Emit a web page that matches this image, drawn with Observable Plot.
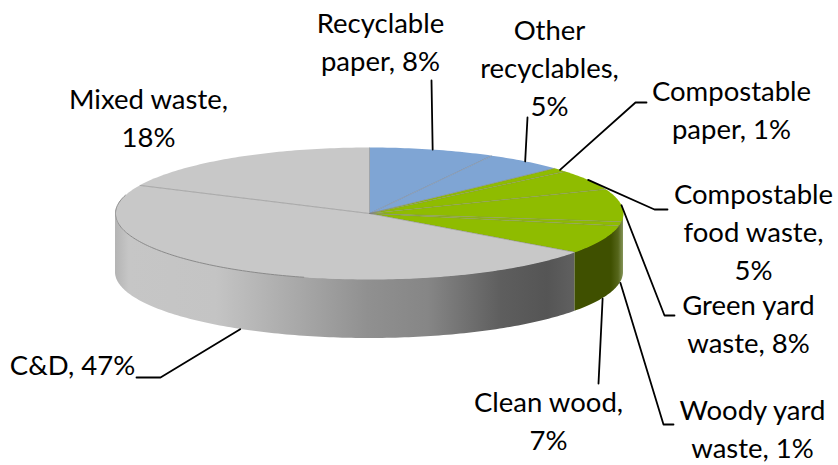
<!DOCTYPE html>
<html>
<head>
<meta charset="utf-8">
<script src="https://cdn.jsdelivr.net/npm/d3@7"></script>
<script src="https://cdn.jsdelivr.net/npm/@observablehq/plot@0.6"></script>
<style>
  html, body { margin: 0; padding: 0; background: #fff; }
  svg { display: block; }
</style>
</head>
<body>
<script>
// Waste composition, percent of total, clockwise from twelve o'clock.
const categories = ["Recyclable paper", "Other recyclables", "Compostable paper", "Compostable food waste",
  "Green yard waste", "Woody yard waste", "Clean wood", "C&D", "Mixed waste"];
const shares = [8, 5, 1, 5, 8, 1, 7, 47, 18];
const labelLead = ["Recyclable\npaper, ", "Other\nrecyclables,\n", "Compostable\npaper, ", "Compostable\nfood waste,\n",
  "Green yard\nwaste, ", "Woody yard\nwaste, ", "Clean wood,\n", "C&D, ", "Mixed waste,\n"];
const topColors = ["#7fa5d4", "#7fa5d4", "#8fbc00", "#8fbc00", "#8fbc00", "#8fbc00", "#8fbc00", "#c8c8c8", "#c8c8c8"];

// Label placement and the elbow of each leader line.
const labelX = [380, 549, 731, 753, 748, 752, 548, 72, 148];
const labelY = [39, 65, 107, 229, 321, 426, 418, 362, 115];
const leaderPath = [
  [[431, 80]],
  [[527, 117]],
  [[635, 102], [646, 102]],
  [[654, 209], [667, 209]],
  [[664, 315], [674, 315]],
  [[663, 424], [673, 424]],
  [[598, 383]],
  [[160, 377], [136, 377]],
  null
];

// Tilted disc geometry.
const cx = 369, cy = 213, rx = 254, ry = 66, depth = 59;
const rim = (deg, drop = 0) => {
  const a = deg * Math.PI / 180;
  return { x: cx + rx * Math.sin(a), y: cy - ry * Math.cos(a) + drop };
};
const arc = (from, to, drop = 0) => {
  const n = Math.max(2, Math.ceil(Math.abs(to - from)));
  return d3.range(n + 1).map((i) => rim(from + (to - from) * i / n, drop));
};

let running = 0;
const slices = categories.map((name, i) => {
  const start = running * 3.6;
  running += shares[i];
  const end = running * 3.6;
  return { name, i, start, end, mid: (start + end) / 2, text: labelLead[i] + shares[i] + "%" };
});

// Leaders leave the top rim on the far side and the wall's lower edge on the near side.
const leaders = slices.flatMap((s) => {
  if (!leaderPath[s.i]) return [];
  const a = s.mid;
  const front = a > 92 && a < 268;
  const start = rim(a, front ? depth : 0);
  return [start, ...leaderPath[s.i].map(([x, y]) => ({ x, y }))].map((p) => ({ ...p, z: s.name }));
});

const wallGrey = [
  [0, "#b4b4b4"], [0.03, "#c6c6c6"], [0.22, "#c4c4c4"], [0.4, "#a8a8a8"], [0.55, "#909090"],
  [0.68, "#868686"], [0.84, "#5e5e5e"], [0.94, "#555555"], [1, "#606060"]
];
const wallGreen = [[0, "#3f5000"], [0.75, "#3f5000"], [0.9, "#56661a"], [1, "#85955a"]];

const gradientDefs = () => {
  const defs = d3.create("svg:defs");
  [["wall-grey", wallGrey], ["wall-green", wallGreen]].forEach(([id, stops]) => {
    const g = defs.append("linearGradient").attr("id", id).attr("x1", 0).attr("x2", 1).attr("y1", 0).attr("y2", 0);
    stops.forEach(([o, c]) => g.append("stop").attr("offset", o).attr("stop-color", c));
  });
  return defs.node();
};

const wall = (from, to, fill) => {
  const pts = arc(from, to).map((p) => ({ x: p.x, y1: p.y, y2: p.y + depth }));
  return Plot.areaY(pts, { x: "x", y1: "y1", y2: "y2", fill, curve: "linear" });
};

const boundaries = slices.map((s) => ({ x1: cx, y1: cy, x2: rim(s.end).x, y2: rim(s.end).y }));

const chart = Plot.plot({
  width: 838,
  height: 465,
  margin: 0,
  x: { domain: [0, 838], range: [0, 838], axis: null },
  y: { domain: [0, 465], range: [0, 465], axis: null },
  style: { fontFamily: "Lato, sans-serif", background: "#fff" },
  marks: [
    gradientDefs,
    wall(126, 270, "url(#wall-grey)"),
    wall(90, 126, "url(#wall-green)"),
    ...slices.map((s) =>
      Plot.line([{ x: cx, y: cy }, ...arc(s.start, s.end), { x: cx, y: cy }],
        { x: "x", y: "y", fill: topColors[s.i], stroke: "none", curve: "linear" })
    ),
    Plot.link(boundaries, {
      x1: "x1", y1: "y1", x2: "x2", y2: "y2",
      stroke: "#7d7d7d", strokeOpacity: 0.5, strokeWidth: 1
    }),
    Plot.line(arc(195, 286), { x: "x", y: "y", stroke: "#8a8a8a", strokeWidth: 1 }),
    Plot.line(leaders, { x: "x", y: "y", z: "z", stroke: "#000", strokeWidth: 1.8, curve: "linear" }),
    Plot.text(slices, {
      x: (s) => labelX[s.i],
      y: (s) => labelY[s.i],
      text: "text",
      fontSize: 27.5,
      lineHeight: 1.38,
      textAnchor: "middle",
      fill: "#000"
    })
  ]
});
document.body.appendChild(chart);
</script>
</body>
</html>
